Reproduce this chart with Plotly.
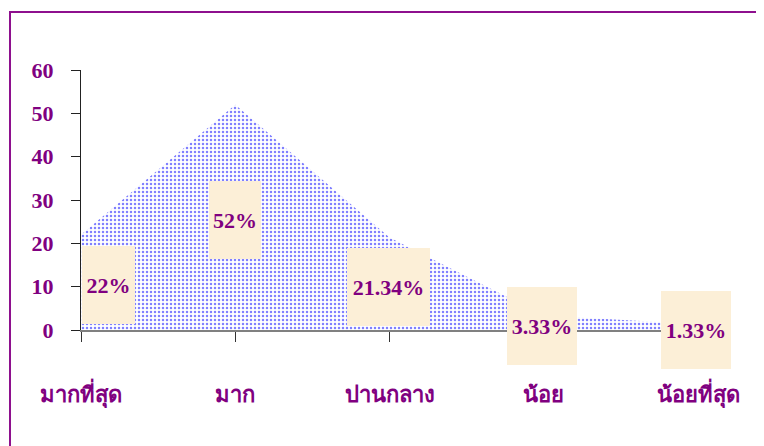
import plotly.graph_objects as go

categories = ["มากที่สุด", "มาก", "ปานกลาง", "น้อย", "น้อยที่สุด"]
values = [22, 52, 21.34, 3.33, 1.33]
labels = ["22%", "52%", "21.34%", "3.33%", "1.33%"]
y_ticks = [0, 10, 20, 30, 40, 50, 60]

# label box styling (pixel offsets / sizes)
box_xshift = [27.5, 0, -1, -2, -2]
box_yshift = [-50, -115, -49.5, -10.5, -6]
box_width = [53, 52, 83, 70, 70]
box_height = 78

PURPLE = "#800080"
SERIF = "Liberation Serif, Times New Roman, serif"

fig = go.Figure()
fig.add_trace(go.Scatter(
    x=categories, y=values, fill="tozeroy", mode="lines",
    line=dict(width=0, color="rgba(0,0,0,0)"),
    fillcolor="white",
    fillpattern=dict(shape=".", fgcolor="#0000ff", bgcolor="white", size=4, solidity=0.3),
    hoverinfo="skip", showlegend=False,
))

for i, (c, v, t) in enumerate(zip(categories, values, labels)):
    fig.add_annotation(
        x=c, y=v, xref="x", yref="y", text=t, showarrow=False,
        xshift=box_xshift[i], yshift=box_yshift[i],
        width=box_width[i], height=box_height, bgcolor="#FCEFD7",
        borderpad=0, borderwidth=0, align="center", valign="middle",
        font=dict(family=SERIF, size=22, color=PURPLE, weight="bold"),
    )

OFF = 8  # page body margin
W, H = 764, 446
L, T = 81 - OFF, 70 - OFF
pw, ph = 617, 260
R, B = W - L - pw, H - T - ph

def px_x(p):
    return (p - OFF - L) / pw

def px_y(p):
    return (T + ph - (p - OFF)) / ph

fig.add_shape(type="rect", xref="paper", yref="paper",
              x0=px_x(10), x1=px_x(762), y0=px_y(480), y1=px_y(12),
              line=dict(color="#8E108E", width=2), layer="below")

fig.update_layout(
    width=W, height=H,
    margin=dict(l=L, r=R, t=T, b=B),
    paper_bgcolor="white", plot_bgcolor="white",
    xaxis=dict(
        type="category", range=[0, 4], showgrid=False, zeroline=False,
        showline=True, linecolor="#808080", linewidth=2,
        ticks="outside", ticklen=10, tickcolor="#333333", tickwidth=1,
        tickfont=dict(family=SERIF, size=22, color=PURPLE, weight="bold"),
        ticklabelstandoff=34,
    ),
    yaxis=dict(
        range=[0, 60], tickvals=y_ticks, showgrid=False, zeroline=False,
        showline=True, linecolor="#222222", linewidth=1,
        ticks="outside", ticklen=9, tickcolor="#222222", tickwidth=1,
        tickfont=dict(family=SERIF, size=22, color=PURPLE, weight="bold"),
        ticklabelstandoff=13,
    ),
)

fig.write_html("out.html")
